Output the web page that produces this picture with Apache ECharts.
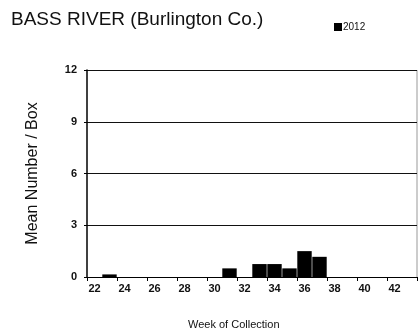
<!DOCTYPE html>
<html>
<head>
<meta charset="utf-8">
<script src="https://cdn.jsdelivr.net/npm/echarts@6/dist/echarts.min.js"></script>
<style>
html, body { margin: 0; padding: 0; background: #fff; }
#chart { width: 418px; height: 332px; }
</style>
</head>
<body>
<div id="chart"></div>
<script>
// weeks of collection, 22..43
var weeks = [];
for (var w = 22; w <= 43; w++) weeks.push(String(w));
// mean number per box, 2012
var vals2012 = [0, 0.15, 0, 0, 0, 0, 0, 0, 0, 0.5, 0, 0.75, 0.75, 0.5, 1.5, 1.17, 0, 0, 0, 0, 0, 0];
var yTicks = [0, 3, 6, 9, 12];

var myChart = echarts.init(document.getElementById('chart'));
var font = 'Liberation Sans, Arial, sans-serif';
var option = {
    animation: false,
    title: [{
        text: 'BASS RIVER (Burlington Co.)',
        left: 6,
        top: 5,
        textStyle: {color: '#111', fontSize: 19, fontWeight: 'normal', fontFamily: font}
    }, {
        text: 'Week of Collection',
        left: 183,
        top: 314,
        textStyle: {color: '#111', fontSize: 11, fontWeight: 'normal', fontFamily: font}
    }],
    legend: {
        left: 329,
        top: 17,
        itemWidth: 8,
        itemHeight: 8,
        itemGap: 2,
        icon: 'rect',
        textStyle: {color: '#111', fontSize: 10, fontFamily: font, padding: [0, 0, 0, -4]},
        data: ['2012']
    },
    grid: {left: 87, right: 1, top: 70, bottom: 55},
    xAxis: {
        type: 'category',
        data: weeks,
        boundaryGap: true,
        axisLine: {lineStyle: {color: '#000', width: 1}},
        axisTick: {show: true, alignWithLabel: false, length: 4, lineStyle: {color: '#000'}},
        axisLabel: {
            interval: 1, color: '#111', fontSize: 11, fontWeight: 'bold', fontFamily: font, margin: 6
        },
        splitLine: {show: false}
    },
    yAxis: {
        type: 'value',
        min: 0,
        max: 12,
        interval: 3,
        name: 'Mean Number / Box',
        nameLocation: 'middle',
        nameGap: 46,
        nameTextStyle: {color: '#111', fontSize: 16, fontFamily: font},
        axisLine: {show: true, lineStyle: {color: '#000', width: 1.5}},
        axisTick: {show: true, length: 3, lineStyle: {color: '#000'}},
        axisLabel: {color: '#111', fontSize: 11, fontWeight: 'bold', fontFamily: font, margin: 10},
        splitLine: {show: true, lineStyle: {color: '#111', width: 1}}
    },
    graphic: [{
        type: 'line',
        shape: {x1: 417, y1: 70, x2: 417, y2: 277},
        style: {stroke: '#999', lineWidth: 1}
    }],
    series: [{
        name: '2012',
        type: 'bar',
        data: vals2012,
        barCategoryGap: '4%',
        itemStyle: {color: '#000'}
    }]
};
myChart.setOption(option, true);
window.addEventListener('resize', function () {
    myChart.resize();
});
</script>
</body>
</html>
